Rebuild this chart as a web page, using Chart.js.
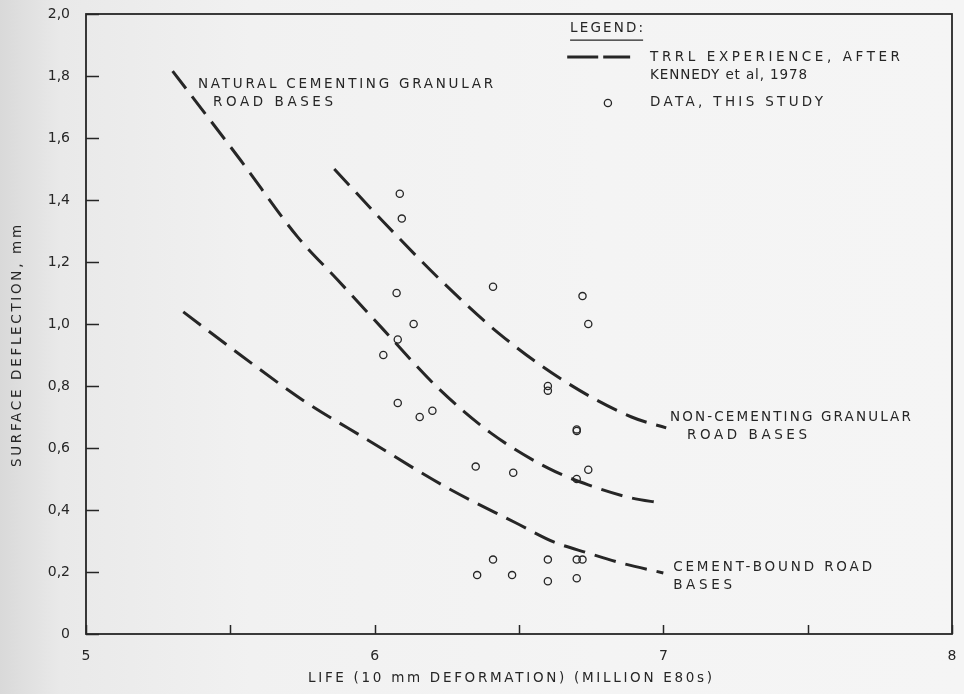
<!DOCTYPE html>
<html>
<head>
<meta charset="utf-8">
<script src="https://cdn.jsdelivr.net/npm/chart.js@4/dist/chart.umd.min.js"></script>
<style>
  html, body { margin: 0; padding: 0; }
  body {
    width: 964px; height: 694px; overflow: hidden;
    background: linear-gradient(to right, #d9d9d9 0px, #e9e9e9 60px, #f1f1f1 250px, #f4f4f4 600px, #f5f5f5 964px);
  }
  #wrap { position: relative; width: 964px; height: 694px; }
</style>
</head>
<body>
<div id="wrap"><canvas id="chart" width="964" height="694"></canvas></div>
<script>
// Axis ticks
const xTickValues = [5, 5.5, 6, 6.5, 7, 7.5, 8];
const yTickValues = [0, 0.2, 0.4, 0.6, 0.8, 1.0, 1.2, 1.4, 1.6, 1.8, 2.0];

// TRRL experience curves (after Kennedy et al, 1978)
const nonCementingLife = [5.86, 6.03, 6.23, 6.43, 6.65, 6.89, 7.01];
const nonCementingDefl = [1.50, 1.33, 1.14, 0.97, 0.82, 0.70, 0.665];

const naturalCementingLife = [5.30, 5.535, 5.733, 5.872, 6.031, 6.219, 6.403, 6.601, 6.740, 6.889, 6.99];
const naturalCementingDefl = [1.816, 1.529, 1.281, 1.142, 0.981, 0.794, 0.648, 0.535, 0.481, 0.439, 0.423];

const cementBoundLife = [5.337, 5.535, 5.75, 5.976, 6.247, 6.49, 6.62, 6.74, 6.854, 7.0];
const cementBoundDefl = [1.039, 0.900, 0.755, 0.626, 0.474, 0.358, 0.297, 0.261, 0.229, 0.197];

// Measured data, this study
const studyLife = [6.087, 6.094, 6.076, 6.41, 6.72, 6.135, 6.74, 6.08, 6.03, 6.60, 6.60, 6.70, 6.70,
                   6.08, 6.156, 6.20, 6.35, 6.48, 6.70, 6.74, 6.41, 6.60, 6.70, 6.72, 6.355, 6.476, 6.60, 6.70];
const studyDefl = [1.42, 1.34, 1.10, 1.12, 1.09, 1.00, 1.00, 0.95, 0.90, 0.785, 0.80, 0.655, 0.66,
                   0.745, 0.70, 0.72, 0.54, 0.52, 0.50, 0.53, 0.24, 0.24, 0.24, 0.24, 0.19, 0.19, 0.17, 0.18];

const INK = '#262626';
const FONT = '"DejaVu Sans", sans-serif';
const TEXT_SIZE = 13.5;

const toPoints = (xs, ys) => xs.map((x, i) => ({ x: x, y: ys[i] }));

function curve(label, xs, ys) {
  return {
    label: label,
    data: toPoints(xs, ys),
    showLine: true,
    borderColor: INK,
    borderWidth: 3,
    borderDash: [22, 10],
    borderCapStyle: 'butt',
    cubicInterpolationMode: 'monotone',
    pointRadius: 0,
    pointHoverRadius: 0,
    fill: false
  };
}

// Curve labels, anchored in data coordinates (left edge, middle) with their lettered width
const annotations = [
  { text: 'NATURAL CEMENTING GRANULAR', x: 5.388, y: 1.771, w: 295 },
  { text: 'ROAD BASES', x: 5.440, y: 1.713, w: 120 },
  { text: 'NON-CEMENTING GRANULAR', x: 7.023, y: 0.697, w: 241 },
  { text: 'ROAD BASES', x: 7.082, y: 0.639, w: 120 },
  { text: 'CEMENT-BOUND ROAD', x: 7.034, y: 0.216, w: 199 },
  { text: 'BASES', x: 7.034, y: 0.158, w: 59 }
];

// Lettering-guide style text: letters spread so the string spans the given width
function letterText(ctx, text, x, y, width) {
  ctx.save();
  ctx.letterSpacing = '0px';
  const natural = ctx.measureText(text).width;
  const n = Math.max(text.length - 1, 1);
  ctx.letterSpacing = ((width - natural) / n).toFixed(2) + 'px';
  ctx.fillText(text, x, y);
  ctx.restore();
}

const drawingPlugin = {
  id: 'drawing',
  afterDraw(chart) {
    const ctx = chart.ctx;
    const xs = chart.scales.x, ys = chart.scales.y;
    const a = chart.chartArea;
    const X = v => xs.getPixelForValue(v);
    const Y = v => ys.getPixelForValue(v);
    ctx.save();

    // frame
    ctx.strokeStyle = INK;
    ctx.lineWidth = 1.8;
    ctx.strokeRect(a.left, a.top, a.right - a.left, a.bottom - a.top);

    // inward tick marks
    ctx.lineWidth = 1.5;
    ctx.beginPath();
    xTickValues.forEach(v => {
      const px = Math.round(X(v)) + 0.5;
      ctx.moveTo(px, a.bottom);
      ctx.lineTo(px, a.bottom - 9);
    });
    yTickValues.forEach(v => {
      const py = Math.round(Y(v)) + 0.5;
      ctx.moveTo(a.left, py);
      ctx.lineTo(a.left + 13, py);
    });
    ctx.stroke();

    ctx.fillStyle = INK;
    ctx.textBaseline = 'middle';
    ctx.textAlign = 'left';
    ctx.font = TEXT_SIZE + 'px ' + FONT;

    annotations.forEach(t => letterText(ctx, t.text, X(t.x), Y(t.y), t.w));

    // legend
    const lx = X(6.677);
    letterText(ctx, 'LEGEND:', lx, Y(1.952), 73);
    ctx.lineWidth = 1.2;
    ctx.beginPath();
    ctx.moveTo(lx, Y(1.916));
    ctx.lineTo(lx + 73, Y(1.916));
    ctx.stroke();

    const sy = Y(1.861);
    ctx.lineWidth = 3;
    ctx.setLineDash([31, 5]);
    ctx.beginPath();
    ctx.moveTo(X(6.667), sy);
    ctx.lineTo(X(6.885), sy);
    ctx.stroke();
    ctx.setLineDash([]);

    const tx = X(6.954);
    letterText(ctx, 'TRRL EXPERIENCE, AFTER', tx, Y(1.861), 250);
    letterText(ctx, 'KENNEDY et al, 1978', tx, Y(1.803), 157);
    letterText(ctx, 'DATA, THIS STUDY', tx, Y(1.713), 173);

    ctx.lineWidth = 1.3;
    ctx.beginPath();
    ctx.arc(X(6.808), Y(1.713), 3.6, 0, Math.PI * 2);
    ctx.stroke();

    // axis titles
    letterText(ctx, 'LIFE (10 mm DEFORMATION) (MILLION E80s)', 308, 678, 404);
    ctx.save();
    ctx.translate(17, 467);
    ctx.rotate(-Math.PI / 2);
    letterText(ctx, 'SURFACE DEFLECTION, mm', 0, 0, 242);
    ctx.restore();

    ctx.restore();
  }
};

new Chart(document.getElementById('chart'), {
  type: 'scatter',
  data: {
    datasets: [
      curve('Non-cementing granular road bases', nonCementingLife, nonCementingDefl),
      curve('Natural cementing granular road bases', naturalCementingLife, naturalCementingDefl),
      curve('Cement-bound road bases', cementBoundLife, cementBoundDefl),
      {
        label: 'Data, this study',
        data: toPoints(studyLife, studyDefl),
        showLine: false,
        pointStyle: 'circle',
        pointRadius: 3.6,
        pointHoverRadius: 3.6,
        borderWidth: 1.3,
        borderColor: INK,
        backgroundColor: 'rgba(0,0,0,0)'
      }
    ]
  },
  options: {
    responsive: false,
    animation: false,
    events: [],
    layout: { padding: { top: 14, right: 12, left: 0, bottom: 0 } },
    plugins: { legend: { display: false }, tooltip: { enabled: false } },
    scales: {
      x: {
        type: 'linear',
        min: 5, max: 8,
        afterFit(scale) {
          scale.height = 60;
          scale.paddingLeft = 0;
          scale.paddingRight = 0;
        },
        afterBuildTicks(scale) { scale.ticks = xTickValues.map(v => ({ value: v })); },
        grid: { display: false, drawTicks: false },
        border: { display: false },
        ticks: {
          padding: 14,
          color: INK,
          font: { family: FONT, size: 14 },
          callback: v => (Number.isInteger(v) ? String(v) : '')
        }
      },
      y: {
        type: 'linear',
        min: 0, max: 2,
        afterFit(scale) {
          scale.width = 86;
          scale.paddingTop = 0;
          scale.paddingBottom = 0;
        },
        afterBuildTicks(scale) { scale.ticks = yTickValues.map(v => ({ value: v })); },
        grid: { display: false, drawTicks: false },
        border: { display: false },
        ticks: {
          padding: 16,
          color: INK,
          font: { family: FONT, size: 14 },
          callback: v => (v === 0 ? '0' : v.toFixed(1).replace('.', ','))
        }
      }
    }
  },
  plugins: [drawingPlugin]
});
</script>
</body>
</html>
